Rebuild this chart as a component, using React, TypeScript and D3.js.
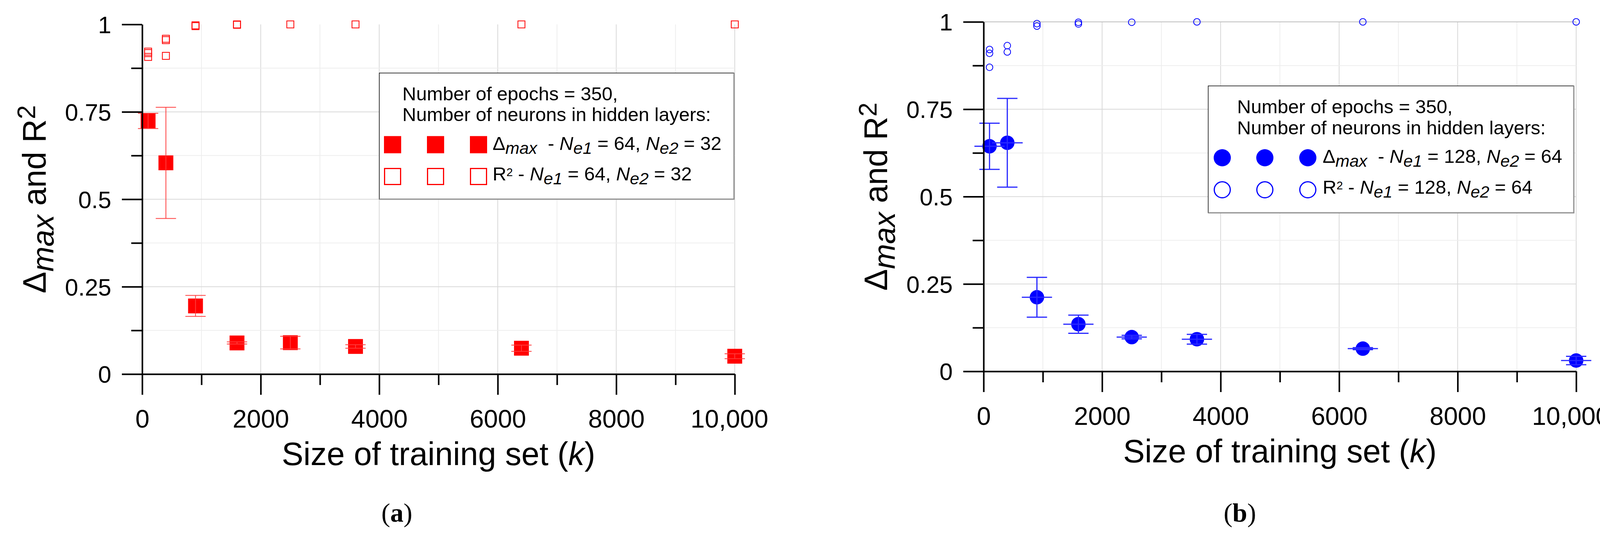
import React, { useEffect, useRef } from "react";
import {
    axisBottom,
    axisLeft,
    scaleLinear,
    ScaleLinear,
    select,
    Selection,
    symbol,
    symbolCircle,
    symbolSquare,
    SymbolType,
} from "d3";

const WIDTH = 4146;
const HEIGHT = 1388;
const FONT = "'Liberation Sans', Arial, Helvetica, sans-serif";
const SERIF = "'Liberation Serif', 'Times New Roman', serif";

// ---- data --------------------------------------------------------------
const trainingSizes = [100, 400, 900, 1600, 2500, 3600, 6400, 10000];

// (a) Ne1 = 64, Ne2 = 32
const deltaMaxA = [0.724, 0.604, 0.195, 0.089, 0.09, 0.079, 0.074, 0.051];
const deltaErrA = [0.022, 0.159, 0.03, 0.003, 0.018, 0.005, 0.009, 0.007];
const r2SizesA = [100, 100, 100, 400, 400, 400, 900, 900, 1600, 1600, 2500, 3600, 6400, 10000];
const r2ValuesA = [0.922, 0.918, 0.907, 0.959, 0.955, 0.91, 0.9975, 0.995, 1.0, 0.999, 1.0, 1.0, 1.0, 1.0];

// (b) Ne1 = 128, Ne2 = 64
const deltaMaxB = [0.644, 0.654, 0.212, 0.135, 0.098, 0.092, 0.065, 0.031];
const deltaErrB = [0.066, 0.127, 0.057, 0.026, 0.005, 0.014, 0.003, 0.012];
const sizeErrB = [255, 260, 255, 255, 255, 255, 255, 255];
const r2SizesB = [100, 100, 100, 400, 400, 900, 900, 1600, 1600, 2500, 3600, 6400, 10000];
const r2ValuesB = [0.921, 0.91, 0.87, 0.932, 0.914, 0.995, 0.988, 0.9988, 0.994, 0.999, 1.0, 1.0, 1.0];

// ---- ticks -------------------------------------------------------------
const xMajorTicks = [0, 2000, 4000, 6000, 8000, 10000];
const xTickLabels = ["0", "2000", "4000", "6000", "8000", "10,000"];
const xMinorTicks = [1000, 3000, 5000, 7000, 9000];
const xGridTicks = [1000, 2000, 3000, 4000, 5000, 6000, 7000, 8000, 9000, 10000];
const yMajorTicks = [0, 0.25, 0.5, 0.75, 1];
const yTickLabels = ["0", "0.25", "0.5", "0.75", "1"];
const yMinorTicks = [0.125, 0.375, 0.625, 0.875];
const yGridTicks = [0.125, 0.25, 0.375, 0.5, 0.625, 0.75, 0.875, 1];

type G = Selection<SVGGElement, unknown, null, undefined>;
type Part = { t: string; italic?: boolean; bold?: boolean; sub?: boolean; sup?: boolean };
type RichOpts = { subScale: number; subShift: number; supScale: number; supShift: number };

type LegendBox = {
    left: number;
    top: number;
    right: number;
    bottom: number;
    headX: number;
    headBase: [number, number];
    symX: number[];
    rowY: [number, number];
    rowBase: [number, number];
    textX: number;
};

type PanelConfig = {
    x0: number;
    x1: number;
    yBottom: number;
    yTop: number;
    color: string;
    errColor: string;
    errWidth: number;
    shape: SymbolType;
    filledSide: number;
    openSide: number;
    openStroke: number;
    legendSide: number;
    deltaMax: number[];
    deltaErr: number[];
    sizeErr: number[] | null;
    r2Sizes: number[];
    r2Values: number[];
    topGrid: boolean;
    ne1: string;
    ne2: string;
    legend: LegendBox;
    tag: string;
    tagX: number;
};

const PANEL_A: PanelConfig = {
    x0: 364,
    x1: 1881,
    yBottom: 958,
    yTop: 62.5,
    color: "#ff0000",
    errColor: "#ff3c3c",
    errWidth: 2,
    shape: symbolSquare,
    filledSide: 38,
    openSide: 18,
    openStroke: 2,
    legendSide: 44,
    deltaMax: deltaMaxA,
    deltaErr: deltaErrA,
    sizeErr: null,
    r2Sizes: r2SizesA,
    r2Values: r2ValuesA,
    topGrid: false,
    ne1: "64",
    ne2: "32",
    legend: {
        left: 971,
        top: 187,
        right: 1879,
        bottom: 510,
        headX: 1030,
        headBase: [257, 310],
        symX: [1005, 1115, 1225],
        rowY: [370.5, 452],
        rowBase: [384, 462],
        textX: 1261,
    },
    tag: "a",
    tagX: 1016,
};

const PANEL_B: PanelConfig = {
    x0: 2518,
    x1: 4035,
    yBottom: 951,
    yTop: 56,
    color: "#0000ff",
    errColor: "#2a2aff",
    errWidth: 3,
    shape: symbolCircle,
    filledSide: 37,
    openSide: 17,
    openStroke: 2,
    legendSide: 44,
    deltaMax: deltaMaxB,
    deltaErr: deltaErrB,
    sizeErr: sizeErrB,
    r2Sizes: r2SizesB,
    r2Values: r2ValuesB,
    topGrid: true,
    ne1: "128",
    ne2: "64",
    legend: {
        left: 3093,
        top: 220,
        right: 4029,
        bottom: 545,
        headX: 3167,
        headBase: [290, 344],
        symX: [3129, 3238, 3348],
        rowY: [404, 486],
        rowBase: [417, 495.5],
        textX: 3386,
    },
    tag: "b",
    tagX: 3174,
};

// area for d3.symbol so that the mark is `side` px across
const symbolArea = (shape: SymbolType, side: number) =>
    shape === symbolCircle ? Math.PI * (side / 2) ** 2 : side * side;

const richText = (text: Selection<SVGTextElement, unknown, null, undefined>, parts: Part[], size: number, o: RichOpts) => {
    let shift = 0;
    parts.forEach(part => {
        const target = part.sub ? o.subShift : part.sup ? -o.supShift : 0;
        const ts = text.append("tspan").attr("dy", target - shift).text(part.t);
        shift = target;
        if (part.italic) ts.attr("font-style", "italic");
        if (part.bold) ts.attr("font-weight", "bold");
        if (part.sub) ts.attr("font-size", size * o.subScale);
        if (part.sup) ts.attr("font-size", size * o.supScale);
    });
};

const drawGrid = (g: G, xScale: ScaleLinear<number, number>, yScale: ScaleLinear<number, number>, topGrid: boolean) => {
    const grid = g.append("g").attr("fill", "none").attr("stroke-width", 2);
    grid.selectAll(".gx")
        .data(xGridTicks)
        .enter()
        .append("line")
        .attr("x1", d => xScale(d))
        .attr("x2", d => xScale(d))
        .attr("y1", yScale(0))
        .attr("y2", yScale(1))
        .attr("stroke", d => (d % 2000 === 0 ? "#d8d8d8" : "#eeeeee"));
    grid.selectAll(".gy")
        .data(yGridTicks.filter(d => topGrid || d < 1))
        .enter()
        .append("line")
        .attr("x1", xScale(0))
        .attr("x2", xScale(10000))
        .attr("y1", d => yScale(d))
        .attr("y2", d => yScale(d))
        .attr("stroke", d => (d === 1 ? "#bdbdbd" : d % 0.25 === 0 ? "#d8d8d8" : "#eeeeee"));
};

const styleAxis = (axisGroup: G, fontSize: number) => {
    axisGroup.attr("font-size", null).attr("font-family", null);
    axisGroup.select(".domain").attr("stroke", "#000").attr("stroke-width", 4);
    axisGroup.selectAll(".tick line").attr("stroke", "#000").attr("stroke-width", 4);
    axisGroup.selectAll(".tick text").attr("fill", "#000").attr("font-size", fontSize).attr("font-family", FONT);
};

const drawAxes = (g: G, xScale: ScaleLinear<number, number>, yScale: ScaleLinear<number, number>) => {
    const y0 = yScale(0);
    const x0 = xScale(0);

    const minorX = g.append("g").attr("transform", `translate(0,${y0})`)
        .call(axisBottom(xScale).tickValues(xMinorTicks).tickSize(28).tickFormat(() => ""));
    minorX.select(".domain").remove();
    styleAxis(minorX, 66);

    const minorY = g.append("g").attr("transform", `translate(${x0},0)`)
        .call(axisLeft(yScale).tickValues(yMinorTicks).tickSize(28).tickFormat(() => ""));
    minorY.select(".domain").remove();
    styleAxis(minorY, 61);

    const xAxis = axisBottom(xScale)
        .tickValues(xMajorTicks)
        .tickSize(53)
        .tickSizeOuter(0)
        .tickPadding(38)
        .tickFormat((_, i) => xTickLabels[i]);
    const gx = g.append("g").attr("transform", `translate(0,${y0})`).call(xAxis);
    styleAxis(gx, 65);
    // the comma label sits a little left of its tick in the original
    gx.selectAll<SVGTextElement, number>(".tick text").attr("dx", d => (d === 10000 ? -14 : 0));

    const yAxis = axisLeft(yScale)
        .tickValues(yMajorTicks)
        .tickSize(52)
        .tickSizeOuter(0)
        .tickPadding(27)
        .tickFormat((_, i) => yTickLabels[i]);
    const gy = g.append("g").attr("transform", `translate(${x0},0)`).call(yAxis);
    styleAxis(gy, 61);
    gy.selectAll(".tick text").attr("dy", "0.36em");
};

const drawTitles = (g: G, xScale: ScaleLinear<number, number>, yScale: ScaleLinear<number, number>, p: PanelConfig) => {
    const midX = (xScale(0) + xScale(10000)) / 2;
    const midY = (yScale(0) + yScale(1)) / 2;

    const xt = g.append("text")
        .attr("x", midX)
        .attr("y", yScale(0) + 233)
        .attr("text-anchor", "middle")
        .attr("font-size", 83);
    richText(xt, [{ t: "Size of training set (" }, { t: "k", italic: true }, { t: ")" }], 83,
        { subScale: 1, subShift: 0, supScale: 1, supShift: 0 });

    const yt = g.append("text")
        .attr("transform", `translate(${xScale(0) - 247},${midY}) rotate(-90)`)
        .attr("text-anchor", "middle")
        .attr("font-size", 83);
    richText(yt, [{ t: "Δ" }, { t: "max", italic: true, sub: true }, { t: " and R" }, { t: "2", sup: true }], 83,
        { subScale: 0.93, subShift: 20, supScale: 0.78, supShift: 27 });

    const tag = g.append("text")
        .attr("x", p.tagX)
        .attr("y", 1336)
        .attr("text-anchor", "middle")
        .attr("font-family", SERIF)
        .attr("font-size", 68);
    richText(tag, [{ t: "(" }, { t: p.tag, bold: true }, { t: ")" }], 68,
        { subScale: 1, subShift: 0, supScale: 1, supShift: 0 });
};

const drawLegend = (g: G, p: PanelConfig) => {
    const L = p.legend;
    const FS = 49;
    const lg = g.append("g").attr("font-size", FS);
    lg.append("rect")
        .attr("x", L.left)
        .attr("y", L.top)
        .attr("width", L.right - L.left)
        .attr("height", L.bottom - L.top)
        .attr("fill", "#fff")
        .attr("stroke", "#000")
        .attr("stroke-width", 1.5);
    lg.append("path")
        .attr("d", `M${L.right},${L.top} V${L.bottom} H${L.left}`)
        .attr("fill", "none")
        .attr("stroke", "#8c8c8c")
        .attr("stroke-width", 3);

    lg.append("text").attr("x", L.headX).attr("y", L.headBase[0]).text("Number of epochs = 350,");
    lg.append("text").attr("x", L.headX).attr("y", L.headBase[1]).text("Number of neurons in hidden layers:");

    const filled = symbol().type(p.shape).size(symbolArea(p.shape, p.legendSide));
    const open = symbol().type(p.shape).size(symbolArea(p.shape, p.legendSide - 3));
    lg.selectAll(".lf")
        .data(L.symX)
        .enter()
        .append("path")
        .attr("transform", d => `translate(${d},${L.rowY[0]})`)
        .attr("d", filled())
        .attr("fill", p.color);
    lg.selectAll(".lo")
        .data(L.symX)
        .enter()
        .append("path")
        .attr("transform", d => `translate(${d},${L.rowY[1]})`)
        .attr("d", open())
        .attr("fill", "none")
        .attr("stroke", p.color)
        .attr("stroke-width", 3);

    const opts: RichOpts = { subScale: 0.88, subShift: 10, supScale: 0.6, supShift: 11 };
    const row1 = lg.append("text").attr("x", L.textX).attr("y", L.rowBase[0]).style("white-space", "pre");
    richText(row1, [
        { t: "Δ" },
        { t: "max", italic: true, sub: true },
        { t: "  - " },
        { t: "N", italic: true },
        { t: "e1", italic: true, sub: true },
        { t: ` = ${p.ne1}, ` },
        { t: "N", italic: true },
        { t: "e2", italic: true, sub: true },
        { t: ` = ${p.ne2}` },
    ], FS, opts);

    const row2 = lg.append("text").attr("x", L.textX).attr("y", L.rowBase[1]).style("white-space", "pre");
    richText(row2, [
        { t: "R" },
        { t: "2", sup: true },
        { t: " - " },
        { t: "N", italic: true },
        { t: "e1", italic: true, sub: true },
        { t: ` = ${p.ne1}, ` },
        { t: "N", italic: true },
        { t: "e2", italic: true, sub: true },
        { t: ` = ${p.ne2}` },
    ], FS, opts);
};

const drawData = (g: G, xScale: ScaleLinear<number, number>, yScale: ScaleLinear<number, number>, p: PanelConfig) => {
    const open = symbol().type(p.shape).size(symbolArea(p.shape, p.openSide));
    g.append("g")
        .selectAll("path")
        .data(p.r2Sizes.map((s, i) => ({ s, v: p.r2Values[i] })))
        .enter()
        .append("path")
        .attr("transform", d => `translate(${xScale(d.s)},${yScale(d.v)})`)
        .attr("d", open())
        .attr("fill", "none")
        .attr("stroke", p.color)
        .attr("stroke-width", p.openStroke);

    const pts = trainingSizes.map((s, i) => ({
        s,
        v: p.deltaMax[i],
        e: p.deltaErr[i],
        xe: p.sizeErr ? p.sizeErr[i] : 0,
    }));

    const filled = symbol().type(p.shape).size(symbolArea(p.shape, p.filledSide));
    g.append("g")
        .selectAll("path")
        .data(pts)
        .enter()
        .append("path")
        .attr("transform", d => `translate(${xScale(d.s)},${yScale(d.v)})`)
        .attr("d", filled())
        .attr("fill", p.color);

    const capHalf = 26;
    const err = g.append("g").attr("stroke", p.errColor).attr("stroke-width", p.errWidth).attr("fill", "none");
    err.selectAll(".v")
        .data(pts)
        .enter()
        .append("path")
        .attr("d", d => {
            const cx = xScale(d.s);
            const hi = yScale(d.v + d.e);
            const lo = yScale(d.v - d.e);
            return `M${cx},${hi} V${lo} M${cx - capHalf},${hi} H${cx + capHalf} M${cx - capHalf},${lo} H${cx + capHalf}`;
        });
    if (p.sizeErr) {
        err.selectAll(".h")
            .data(pts)
            .enter()
            .append("line")
            .attr("x1", d => xScale(d.s - d.xe))
            .attr("x2", d => xScale(d.s + d.xe))
            .attr("y1", d => yScale(d.v))
            .attr("y2", d => yScale(d.v));
    }
};

const drawPanel = (svg: Selection<SVGSVGElement, unknown, null, undefined>, p: PanelConfig) => {
    const xScale = scaleLinear().domain([0, 10000]).range([p.x0, p.x1]);
    const yScale = scaleLinear().domain([0, 1]).range([p.yBottom, p.yTop]);
    const g = svg.append("g").attr("font-family", FONT).attr("fill", "#000");

    drawGrid(g, xScale, yScale, p.topGrid);
    drawLegend(g, p);
    drawData(g, xScale, yScale, p);
    drawAxes(g, xScale, yScale);
    drawTitles(g, xScale, yScale, p);
};

export default function App() {
    const svgRef = useRef<SVGSVGElement>(null);

    useEffect(() => {
        const svg = select(svgRef.current as SVGSVGElement);
        svg.selectAll("*").remove();
        svg.append("rect").attr("width", WIDTH).attr("height", HEIGHT).attr("fill", "#fff");
        drawPanel(svg, PANEL_A);
        drawPanel(svg, PANEL_B);
    }, []);

    return (
        <svg
            ref={svgRef}
            width={WIDTH}
            height={HEIGHT}
            style={{ position: "absolute", left: 0, top: 0, display: "block" }}
        />
    );
}
